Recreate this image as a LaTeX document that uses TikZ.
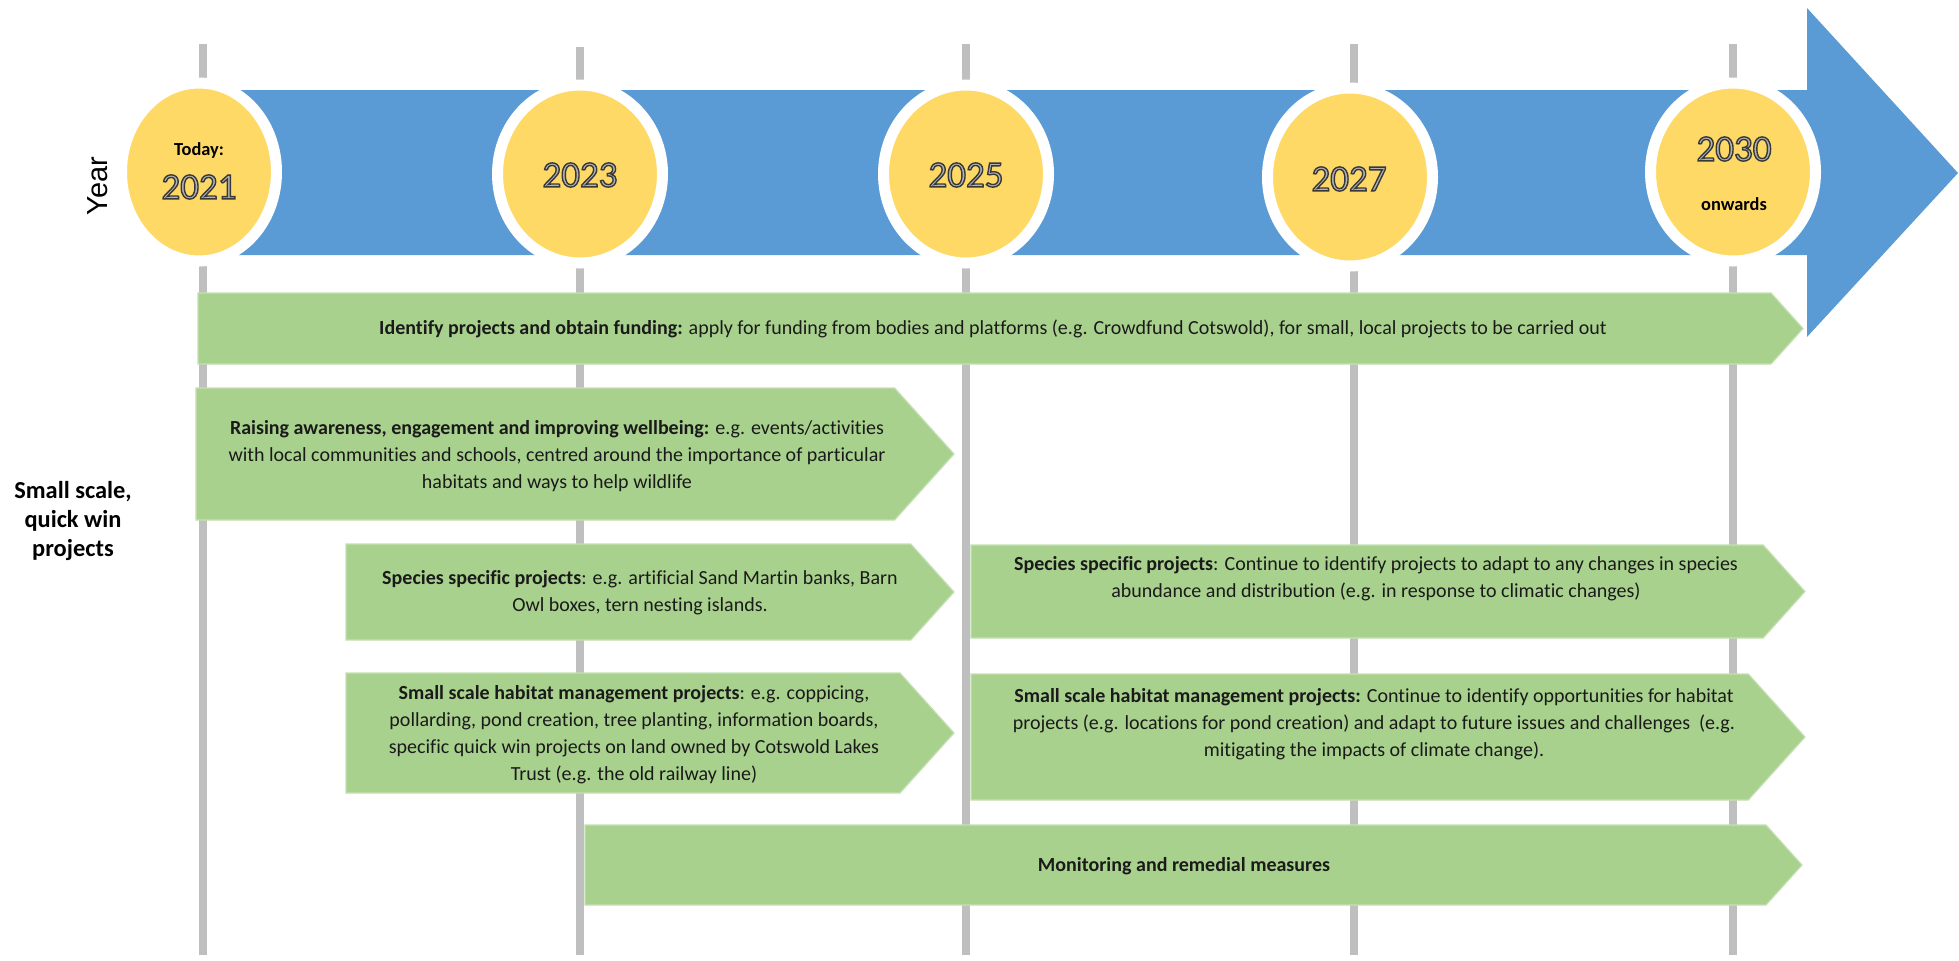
\documentclass[tikz,border=0pt]{standalone}
\usepackage{fontspec}
\setmainfont{Carlito}[Ligatures=CommonOff]
\newfontfamily\yearfont{Liberation Sans}
\usetikzlibrary{shapes.geometric}
\definecolor{tlblue}{HTML}{5B9BD5}
\definecolor{tlyellow}{HTML}{FFD966}
\definecolor{tlgreen}{HTML}{A9D18E}
\definecolor{tlgreenedge}{HTML}{C5E0B4}
\definecolor{tlgray}{HTML}{BFBFBF}
\definecolor{txt}{HTML}{1A1A1A}
\definecolor{yrfill}{HTML}{B4B4B4}
\newcommand\outlinetext[1]{\special{pdf:literal direct 0.22 G 0.7 w 2 Tr}#1\special{pdf:literal direct 0 Tr}}
\newcommand\gpent[4]{\path[gbox] (#1,#2) -- ({#3-0.45*(#4-#2)},#2) -- (#3,{(#2+#4)/2}) -- ({#3-0.45*(#4-#2)},#4) -- (#1,#4) -- cycle;}
\tikzset{
  tick/.style={draw=tlgray, line width=4pt},
  yearell/.style={ellipse, fill=tlyellow, draw=white, line width=5.5pt, inner sep=0pt,
    minimum width=82.5pt, minimum height=89pt},
  gbox/.style={fill=tlgreen, draw=tlgreenedge, line width=0.6pt},
  btext/.style={align=center, font=\fontsize{10pt}{13.5pt}\selectfont, text=txt, inner sep=0pt},
  yeartext/.style={font=\fontsize{18.5pt}{20pt}\selectfont, text=yrfill, inner sep=0pt},
  smalllabel/.style={font=\bfseries\fontsize{9.2pt}{11pt}\selectfont, text=black, inner sep=0pt},
  sidelabel/.style={align=center, font=\bfseries\fontsize{12.2pt}{14.5pt}\selectfont, text=black, inner sep=0pt},
}
\begin{document}
\begin{tikzpicture}[x=0.5pt,y=-0.5pt]
\useasboundingbox (0,0) rectangle (1959,960);
% vertical guide lines
\coordinate (t1) at (203,44);  \coordinate (b1) at (203,955);
\coordinate (t2) at (580,47);  \coordinate (b2) at (580,955);
\coordinate (t3) at (966,44);  \coordinate (b3) at (966,955);
\coordinate (t4) at (1354,44); \coordinate (b4) at (1354,955);
\coordinate (t5) at (1733,44); \coordinate (b5) at (1733,955);
\draw[tick] (t1) -- (b1);
\draw[tick] (t2) -- (b2);
\draw[tick] (t3) -- (b3);
\draw[tick] (t4) -- (b4);
\draw[tick] (t5) -- (b5);
% big blue arrow
\fill[tlblue] (200,90) -- (1807,90) -- (1807,8) -- (1958,173) -- (1807,337) -- (1807,255) -- (200,255) -- cycle;
% year ellipses
\node[yearell, minimum width=77.5pt] (e1) at (199,172) {};
\node[yearell] (e2) at (580,174) {};
\node[yearell] (e3) at (966,174) {};
\node[yearell] (e4) at (1350,177) {};
\node[yearell] (e5) at (1733,172) {};
\node[smalllabel] (today) at (199,150) {Today:};
\node[yeartext] (y1) at (199,187) {\outlinetext{2021}};
\node[yeartext] (y2) at (580,175) {\outlinetext{2023}};
\node[yeartext] (y3) at (966,175) {\outlinetext{2025}};
\node[yeartext] (y4) at (1349,179) {\outlinetext{2027}};
\node[yeartext] (y5) at (1734,149) {\outlinetext{2030}};
\node[smalllabel] (onw) at (1734,204) {onwards};
\node[rotate=90, font=\yearfont\fontsize{14.5pt}{16pt}\selectfont, inner sep=0pt] (yearlbl) at (98,186) {Year};
% side label
\node[sidelabel] (side) at (73,521) {Small scale,\\quick win\\projects};
% green project arrows
\gpent{198}{293}{1803}{364}
\gpent{196}{388}{954}{520}
\gpent{346}{544}{954}{640}
\gpent{971}{545}{1805}{638}
\gpent{971}{674}{1805}{800}
\gpent{346}{673}{954}{793}
\gpent{585}{825}{1802}{905}
\node[btext] (p1) at (993,329) {\textbf{Identify projects and obtain funding:} apply for funding from bodies and platforms (e.g. Crowdfund Cotswold), for small, local projects to be carried out};
\node[btext] (p2) at (557,456) {\textbf{Raising awareness, engagement and improving wellbeing:} e.g. events/activities\\with local communities and schools, centred around the importance of particular\\habitats and ways to help wildlife};
\node[btext] (p3) at (640,593) {\textbf{Species specific projects}: e.g. artificial Sand Martin banks, Barn\\Owl boxes, tern nesting islands.};
\node[btext] (p4) at (1376,579) {\textbf{Species specific projects}: Continue to identify projects to adapt to any changes in species\\abundance and distribution (e.g. in response to climatic changes)};
\node[btext] (p5) at (1374,724) {\textbf{Small scale habitat management projects:} Continue to identify opportunities for habitat\\projects (e.g. locations for pond creation) and adapt to future issues and challenges\ \ (e.g.\\mitigating the impacts of climate change).};
\node[btext] (p6) at (634,735) {\textbf{Small scale habitat management projects}: e.g. coppicing,\\pollarding, pond creation, tree planting, information boards,\\specific quick win projects on land owned by Cotswold Lakes\\Trust (e.g. the old railway line)};
\node[btext] (p7) at (1184,866) {\textbf{Monitoring and remedial measures}};
\end{tikzpicture}
\end{document}
